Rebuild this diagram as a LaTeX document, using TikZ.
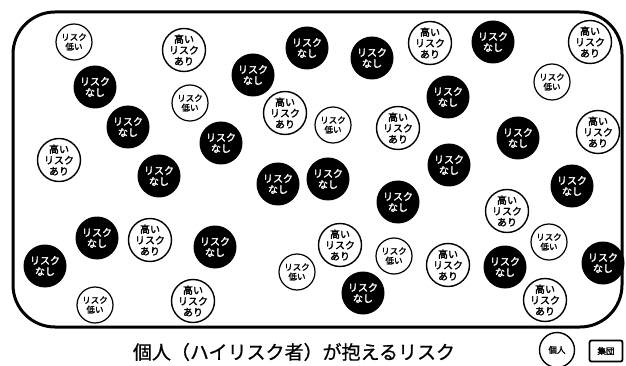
\documentclass[tikz,border=0pt]{standalone}
\usepackage{fontspec}
\newfontfamily\cjk{Noto Sans CJK JP}[FakeBold=0.8]
\newfontfamily\cjkb{Noto Sans CJK JP}[FakeBold=2.2]
\tikzset{
  base/.style={circle, inner sep=0pt, align=center, font=\cjkb\fontsize{10}{11}\selectfont},
  blk/.style={base, fill=black, text=white, minimum size=43pt},
  hi/.style={base, draw=black, fill=white, line width=1.4pt, minimum size=41pt},
  lo/.style={base, draw=black, fill=white, line width=1.2pt, minimum size=36pt, font=\cjkb\fontsize{8.5}{9.5}\selectfont},
  frame/.style={line width=3pt, rounded corners=42pt},
}
\newcommand{\nasi}{リスク\\なし}
\newcommand{\takai}{高い\\リスク\\あり}
\newcommand{\hikui}{リスク\\低い}
\begin{document}
\begin{tikzpicture}[x=1pt,y=-1pt]
\useasboundingbox (0,0) rectangle (626,366);
\draw[frame] (13,12) rectangle (622,327);
\node[lo]  (c1)  at (74,42)   {\hikui};
\node[hi]  (c2)  at (184,50)  {\takai};
\node[blk] (c3)  at (95,87)   {\nasi};
\node[blk] (c4)  at (128,127) {\nasi};
\node[lo]  (c5)  at (190,103) {\hikui};
\node[hi]  (c6)  at (59,160)  {\takai};
\node[blk] (c7)  at (221,143) {\nasi};
\node[blk] (c8)  at (253,75)  {\nasi};
\node[blk] (c9)  at (307,48)  {\nasi};
\node[blk] (c10) at (372,58)  {\nasi};
\node[hi]  (c11) at (285,113) {\takai};
\node[lo]  (c12) at (333,125) {\hikui};
\node[hi]  (c13) at (398,128) {\takai};
\node[hi]  (c14) at (430,43)  {\takai};
\node[blk] (c15) at (493,42)  {\nasi};
\node[hi]  (c16) at (590,42)  {\takai};
\node[lo]  (c17) at (552,82)  {\hikui};
\node[blk] (c18) at (448,97)  {\nasi};
\node[blk] (c19) at (518,138) {\nasi};
\node[hi]  (c20) at (598,132) {\takai};
\node[blk] (c21) at (449,165) {\nasi};
\node[blk] (c22) at (572,186) {\nasi};
\node[hi]  (c23) at (507,211) {\takai};
\node[lo]  (c24) at (549,242) {\hikui};
\node[blk] (c25) at (603,263) {\nasi};
\node[blk] (c26) at (505,267) {\nasi};
\node[hi]  (c27) at (448,265) {\takai};
\node[hi]  (c28) at (545,300) {\takai};
\node[blk] (c29) at (159,176) {\nasi};
\node[blk] (c30) at (278,184) {\nasi};
\node[blk] (c31) at (328,179) {\nasi};
\node[blk] (c32) at (398,202) {\nasi};
\node[hi]  (c33) at (340,245) {\takai};
\node[lo]  (c34) at (394,256) {\hikui};
\node[lo]  (c35) at (297,272) {\hikui};
\node[blk] (c36) at (363,293) {\nasi};
\node[blk] (c37) at (97,238)  {\nasi};
\node[hi]  (c38) at (150,240) {\takai};
\node[blk] (c39) at (45,266)  {\nasi};
\node[lo]  (c40) at (95,305)  {\hikui};
\node[hi]  (c41) at (193,301) {\takai};
\node[blk] (c42) at (215,247) {\nasi};
\node[font=\cjk\fontsize{19}{19}\selectfont] (cap) at (294,352) {個人（ハイリスク者）が抱えるリスク};
\node[circle, draw, line width=1.4pt, minimum size=35pt, inner sep=0pt, font=\cjkb\fontsize{8.5}{8.5}\selectfont] (kojin) at (557,350) {個人};
\node[draw, line width=1.8pt, rounded corners=2pt, minimum width=33pt, minimum height=21pt, inner sep=0pt, font=\cjkb\fontsize{8.5}{8.5}\selectfont] (shudan) at (606,351) {集団};
\end{tikzpicture}
\end{document}
